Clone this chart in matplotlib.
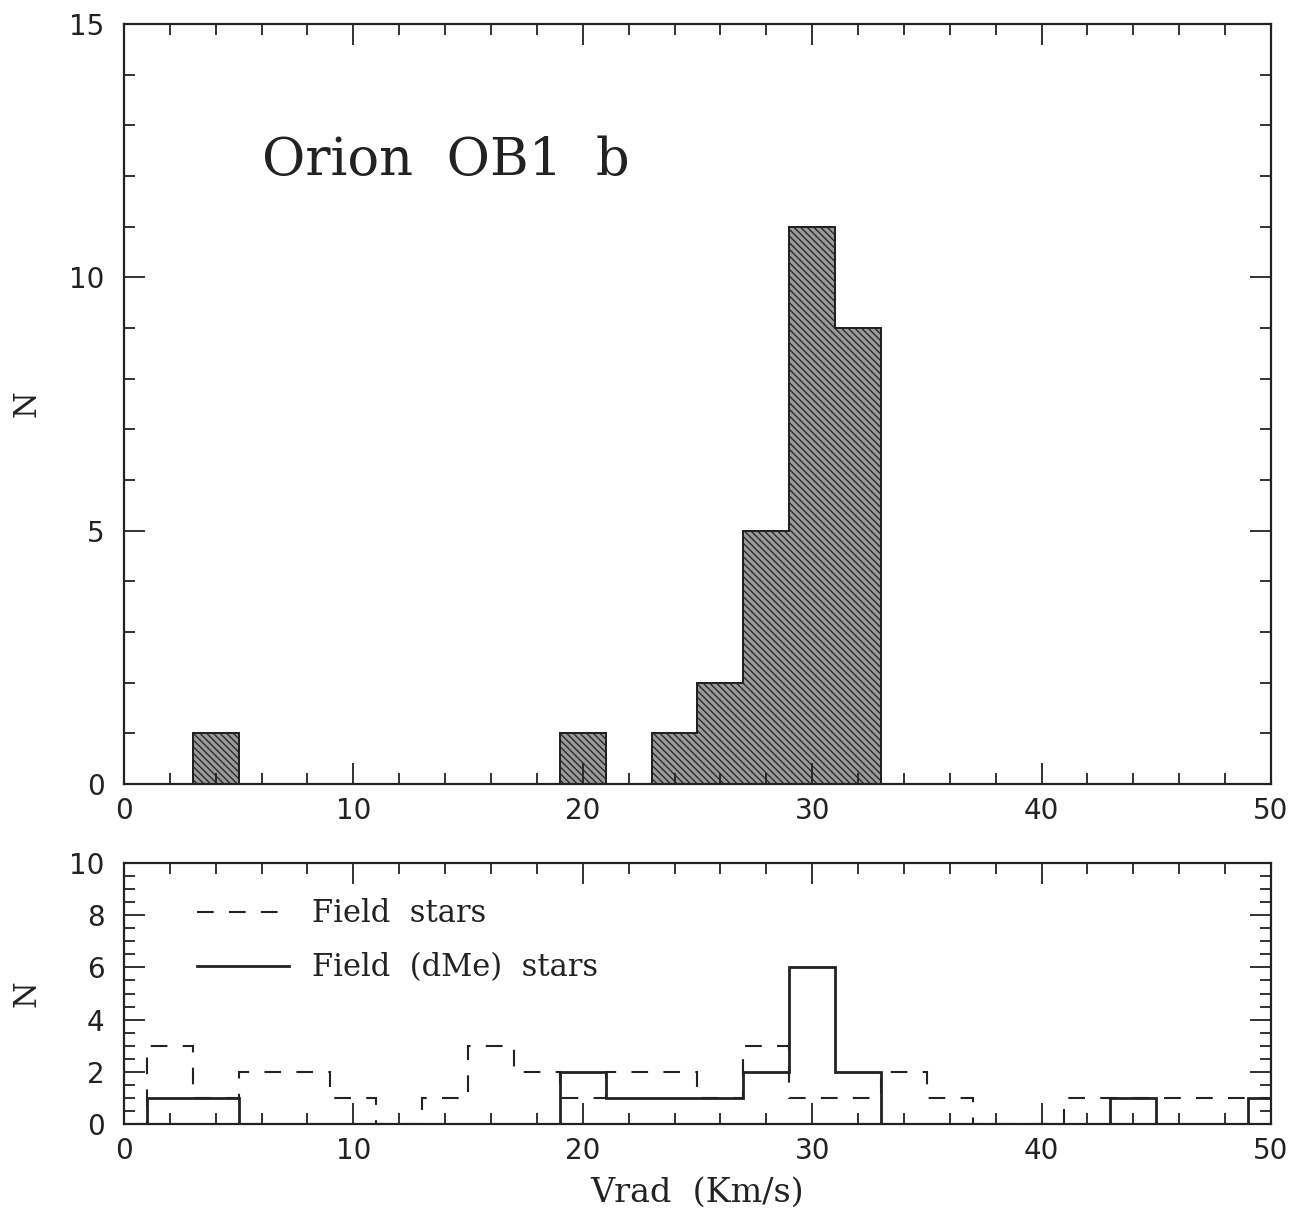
import numpy as np
import matplotlib
matplotlib.use("Agg")
import matplotlib.pyplot as plt
from matplotlib.ticker import MultipleLocator

# bin edges (km/s), 2 km/s bins starting at -1
edges = np.arange(-1, 53, 2)

# Orion OB1 b members
orion_counts = [0, 0, 1, 0, 0, 0, 0, 0, 0, 0, 1, 0, 1, 2, 5, 11, 9,
                0, 0, 0, 0, 0, 0, 0, 0, 0]
# field stars (dashed)
field_counts = [0, 3, 1, 2, 2, 1, 0, 1, 3, 2, 1, 2, 2, 1, 3, 1, 1,
                2, 1, 0, 0, 1, 1, 1, 1, 1]
# field dMe stars (solid)
dme_counts = [0, 1, 1, 0, 0, 0, 0, 0, 0, 0, 2, 1, 1, 1, 2, 6, 2,
              0, 0, 0, 0, 0, 1, 0, 0, 1]

plt.rcParams["lines.scale_dashes"] = False
plt.rcParams["hatch.linewidth"] = 1.0
plt.rcParams["hatch.color"] = "#2a2a2a"

sans = "DejaVu Sans"
serif = "DejaVu Serif"
ink = "#222222"

fig = plt.figure(figsize=(13.12, 12.19), dpi=100)
ax1 = fig.add_axes([0.0945, 0.3568, 0.8742, 0.6235])
ax2 = fig.add_axes([0.0945, 0.0779, 0.8742, 0.2141])


def style_axes(ax, ymaj, ymin):
    ax.xaxis.set_major_locator(MultipleLocator(10))
    ax.xaxis.set_minor_locator(MultipleLocator(2))
    ax.yaxis.set_major_locator(MultipleLocator(ymaj))
    ax.yaxis.set_minor_locator(MultipleLocator(ymin))
    ax.tick_params(which="both", direction="in", top=True, right=True,
                   width=1.3, color=ink)
    ax.tick_params(which="major", length=15, labelsize=20)
    ax.tick_params(axis="x", which="major", pad=9)
    ax.tick_params(axis="y", which="major", pad=14)
    ax.tick_params(which="minor", length=8)
    for s in ax.spines.values():
        s.set_linewidth(1.6)
        s.set_color(ink)
    for lab in ax.get_xticklabels() + ax.get_yticklabels():
        lab.set_fontfamily(sans)
        lab.set_color(ink)


# top panel
ax1.stairs(orion_counts, edges, fill=True, facecolor="#9a9a9a",
           edgecolor="#2a2a2a", hatch="\\\\\\\\\\", linewidth=1.2)
ax1.stairs(orion_counts, edges, fill=False, color=ink, linewidth=1.4)
ax1.set_xlim(0, 50)
ax1.set_ylim(0, 15)
style_axes(ax1, 5, 1)
ax1.text(6.0, 12.3, "Orion  OB1  b", fontsize=38, family=serif,
         color=ink, va="center")
ax1.set_ylabel("N", fontsize=22, family=serif, color=ink)
ax1.yaxis.set_label_coords(-0.071, 0.5)

# bottom panel
ax2.stairs(field_counts, edges, color=ink, linewidth=1.5,
           linestyle=(0, (12, 11)), label="Field  stars")
ax2.stairs(dme_counts, edges, color=ink, linewidth=2.0,
           label="Field  (dMe)  stars")
ax2.set_xlim(0, 50)
ax2.set_ylim(0, 10)
style_axes(ax2, 2, 0.5)
ax2.set_ylabel("N", fontsize=22, family=serif, color=ink)
ax2.yaxis.set_label_coords(-0.071, 0.5)
ax2.set_xlabel("Vrad  (Km/s)", fontsize=24, family=serif, labelpad=9,
               color=ink)

leg = ax2.legend(loc="upper left", bbox_to_anchor=(0.04, 0.97),
                 frameon=False, handlelength=3.0, handletextpad=0.75,
                 labelspacing=0.75, prop={"family": serif, "size": 22})
for t in leg.get_texts():
    t.set_color(ink)

fig.savefig("out.png", dpi=100)
